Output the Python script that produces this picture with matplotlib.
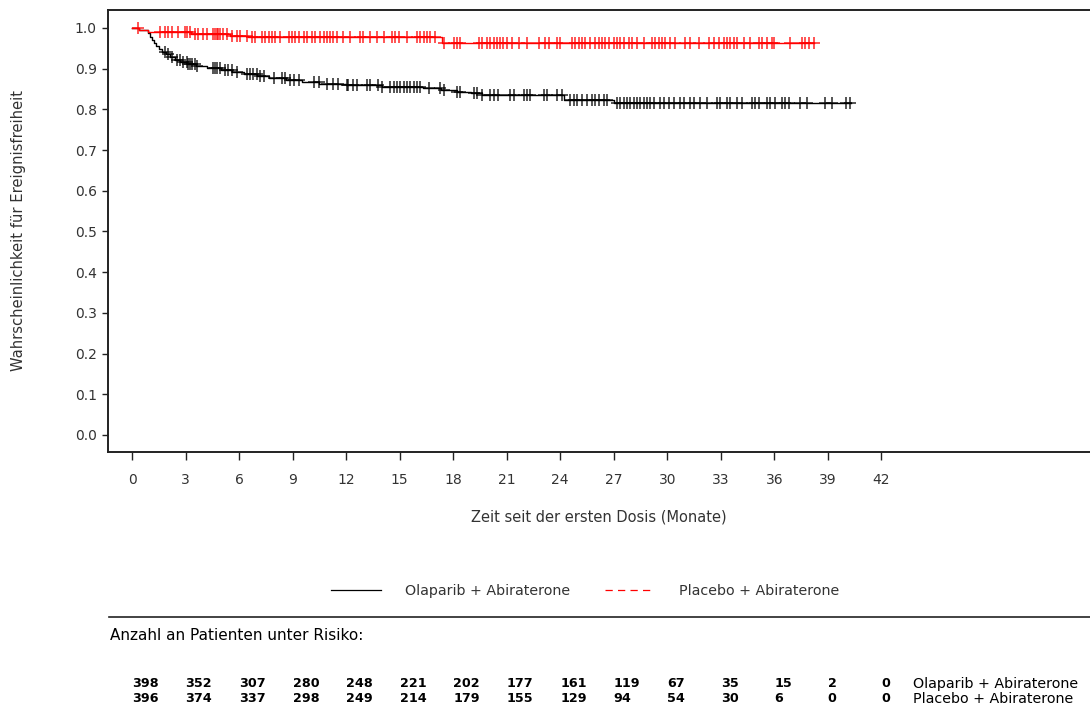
import numpy as np
import matplotlib
matplotlib.use("Agg")
import matplotlib.pyplot as plt
from matplotlib.lines import Line2D
from matplotlib.transforms import blended_transform_factory

# Kaplan-Meier step points (time in months, survival)
ola_t = [0.0, 0.4, 0.9, 1.0, 1.1, 1.2, 1.35, 1.5, 1.7, 1.9, 2.1, 2.4, 2.7, 3.1,
         3.6, 4.2, 5.0, 5.6, 6.3, 7.0, 7.7, 8.6, 9.5, 10.5, 12.0, 14.0, 16.3,
         17.3, 18.2, 19.0, 19.6, 24.2, 27.0, 40.3]
ola_s = [1.0, 0.995, 0.988, 0.978, 0.970, 0.962, 0.955, 0.948, 0.942, 0.936,
         0.929, 0.922, 0.917, 0.912, 0.906, 0.901, 0.896, 0.891, 0.886, 0.881,
         0.876, 0.871, 0.866, 0.862, 0.859, 0.856, 0.852, 0.848, 0.843, 0.839,
         0.835, 0.823, 0.816, 0.816]

pla_t = [0.0, 0.4, 0.9, 3.3, 5.5, 6.5, 17.4, 38.2]
pla_s = [1.0, 0.995, 0.990, 0.986, 0.980, 0.977, 0.962, 0.962]

# censored observations (months)
ola_cens = [1.85, 2.04, 2.24, 2.5, 2.69, 2.88, 3.06, 3.16, 3.25, 3.34, 3.53, 3.63,
            4.56, 4.65, 4.75, 4.93, 5.22, 5.4, 5.59, 5.87, 6.43, 6.62, 6.8, 6.99,
            7.18, 7.37, 7.93, 8.39, 8.58, 8.86, 9.05, 9.33, 10.17, 10.45, 10.92,
            11.29, 11.57, 12.04, 12.13, 12.41, 12.6, 13.16, 13.35, 13.81, 14.0,
            14.47, 14.66, 14.84, 15.03, 15.22, 15.41, 15.59, 15.78, 15.97, 16.15,
            16.62, 17.27, 17.46, 18.21, 18.4, 19.14, 19.33, 19.61, 20.08, 20.27,
            20.54, 21.2, 21.39, 21.95, 22.13, 22.32, 23.07, 23.26, 23.82, 24.1,
            24.57, 24.76, 24.94, 25.22, 25.5, 25.78, 25.97, 26.15, 26.43, 26.62,
            27.18, 27.37, 27.55, 27.74, 27.93, 28.12, 28.3, 28.49, 28.68, 28.87,
            29.05, 29.24, 29.61, 29.8, 30.08, 30.36, 30.74, 30.92, 31.29, 31.48,
            31.85, 32.23, 32.79, 32.98, 33.35, 33.54, 33.91, 34.19, 34.75, 34.94,
            35.13, 35.6, 35.78, 36.06, 36.43, 36.62, 36.81, 37.46, 37.84, 38.87,
            39.24, 40.0, 40.27]
pla_cens = [0.35, 1.57, 1.85, 2.04, 2.22, 2.6, 2.97, 3.1, 3.25, 3.53, 3.72, 4.0,
            4.19, 4.56, 4.65, 4.75, 4.84, 4.93, 5.12, 5.31, 5.59, 5.87, 6.06,
            6.43, 6.71, 6.9, 7.27, 7.46, 7.65, 7.84, 8.02, 8.3, 8.77, 8.96, 9.14,
            9.33, 9.61, 9.8, 10.08, 10.26, 10.54, 10.73, 10.92, 11.1, 11.29,
            11.48, 11.85, 12.23, 12.79, 12.97, 13.35, 13.72, 14.1, 14.56, 14.75,
            14.94, 15.41, 15.97, 16.15, 16.34, 16.53, 16.71, 16.99, 17.46, 18.02,
            18.21, 18.4, 19.42, 19.61, 19.89, 20.08, 20.27, 20.45, 20.64, 20.82,
            21.01, 21.3, 21.67, 22.14, 22.79, 23.16, 23.35, 23.82, 24.0, 24.66,
            24.85, 25.04, 25.22, 25.41, 25.69, 25.97, 26.15, 26.34, 26.53, 26.71,
            26.99, 27.18, 27.37, 27.55, 27.83, 28.02, 28.3, 28.67, 29.15, 29.33,
            29.52, 29.71, 29.9, 30.17, 30.46, 31.01, 31.29, 31.76, 32.32, 32.6,
            32.88, 33.16, 33.35, 33.54, 33.72, 33.91, 34.29, 34.66, 35.13, 35.32,
            35.6, 35.88, 35.97, 36.9, 37.56, 37.75, 37.93, 38.2]

# number at risk table
risk_times = [0, 3, 6, 9, 12, 15, 18, 21, 24, 27, 30, 33, 36, 39, 42]
ola_risk = [398, 352, 307, 280, 248, 221, 202, 177, 161, 119, 67, 35, 15, 2, 0]
pla_risk = [396, 374, 337, 298, 249, 214, 179, 155, 129, 94, 54, 30, 6, 0, 0]

ola_name = "Olaparib + Abiraterone"
pla_name = "Placebo + Abiraterone"
txt_col = "#333333"


def step_value(t_steps, s_steps, t):
    idx = np.searchsorted(t_steps, t, side="right") - 1
    return np.asarray(s_steps)[idx]


def main():
    fig = plt.figure(figsize=(10.9, 7.11), dpi=100)
    ax = fig.add_axes([0.0991, 0.3643, 0.9009, 0.6217])

    ax.step(ola_t, ola_s, where="post", color="black", lw=1.0)
    ax.step(pla_t, pla_s, where="post", color="red", lw=1.0)

    ax.plot(pla_cens, step_value(pla_t, pla_s, pla_cens), ls="none",
            marker="+", ms=8.5, mew=1.1, color="red", alpha=0.85)
    ax.plot(ola_cens, step_value(ola_t, ola_s, ola_cens), ls="none",
            marker="+", ms=8.5, mew=1.1, color="black", alpha=0.85)

    ax.set_xlim(-1.35, 53.7)
    ax.set_ylim(-0.0418, 1.0442)
    ax.set_xticks(risk_times)
    ax.set_yticks(np.arange(0, 1.01, 0.1))
    ax.set_yticklabels([f"{v:.1f}" for v in np.arange(0, 1.01, 0.1)])

    ax.spines["right"].set_visible(False)
    for s in ["left", "top", "bottom"]:
        ax.spines[s].set_linewidth(1.4)
        ax.spines[s].set_color("#222222")

    ax.tick_params(axis="x", length=6, width=1, pad=9, labelsize=10,
                   labelcolor=txt_col, color="#222222")
    ax.tick_params(axis="y", length=4, width=1, pad=4, labelsize=10,
                   labelcolor=txt_col, color="#222222")

    ax.set_xlabel("Zeit seit der ersten Dosis (Monate)", fontsize=10.5,
                  color=txt_col, labelpad=16)
    ax.set_ylabel("Wahrscheinlichkeit für Ereignisfreiheit", fontsize=10.6,
                  color=txt_col, labelpad=35)

    # legend below the axis
    handles = [Line2D([], [], color="black", lw=0.9),
               Line2D([], [], color="red", lw=0.9, ls=(0, (5.8, 4.2)))]
    fig.legend(handles, [ola_name, pla_name], loc="center",
               bbox_to_anchor=(0.537, 0.1688), ncol=2, frameon=False,
               fontsize=10.3, handlelength=3.5, handletextpad=1.7,
               columnspacing=2.4, labelcolor=txt_col)

    fig.add_artist(Line2D([0.1, 1.0], [0.1322, 0.1322], color="#222222",
                          lw=1.2, transform=fig.transFigure))
    fig.text(0.101, 0.1055, "Anzahl an Patienten unter Risiko:", fontsize=11,
             color="black", va="center")

    trans = blended_transform_factory(ax.transData, fig.transFigure)
    for t, a, b in zip(risk_times, ola_risk, pla_risk):
        ax.text(t, 0.038, str(a), transform=trans, ha="left", va="center",
                fontsize=9.2, fontweight="bold")
        ax.text(t, 0.0169, str(b), transform=trans, ha="left", va="center",
                fontsize=9.2, fontweight="bold")
    ax.text(43.8, 0.038, ola_name, transform=trans, ha="left", va="center",
            fontsize=10.3)
    ax.text(43.8, 0.0169, pla_name, transform=trans, ha="left", va="center",
            fontsize=10.3)

    fig.savefig("out.png", dpi=100)
    plt.close(fig)


if __name__ == "__main__":
    main()
